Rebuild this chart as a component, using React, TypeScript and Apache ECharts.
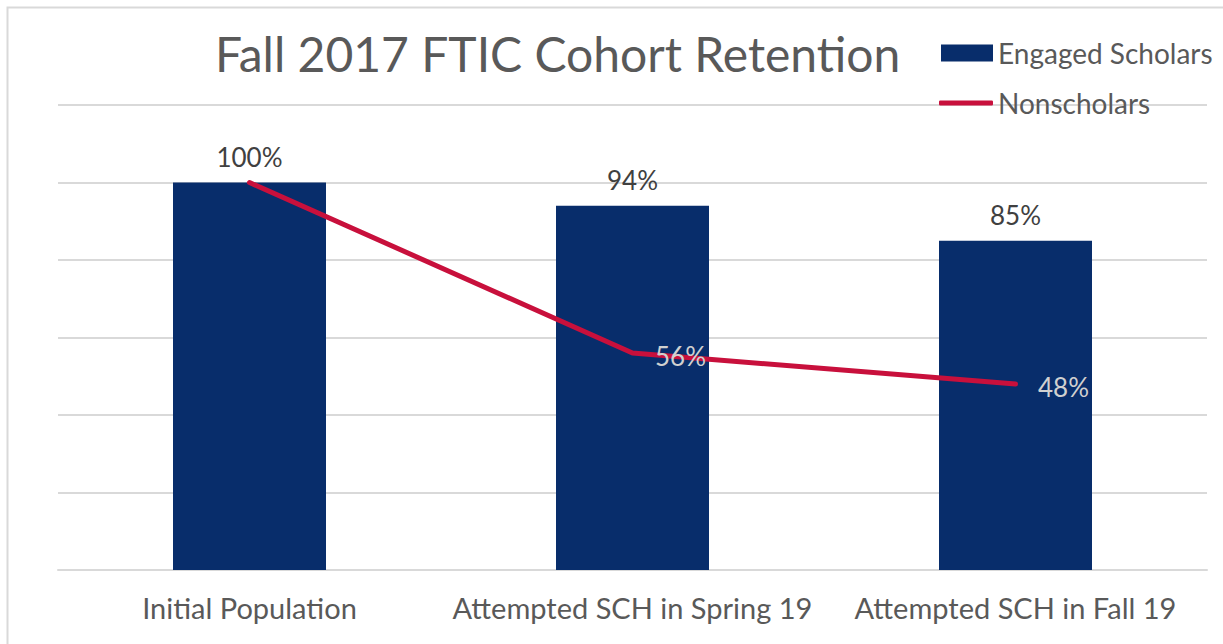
import React, { useEffect, useRef } from "react";
import * as echarts from "echarts";

const categories = ["Initial Population", "Attempted SCH in Spring 19", "Attempted SCH in Fall 19"];
const engagedScholars = [100, 94, 85];
const nonscholars = [100, 56, 48];
const yTicks = [0, 20, 40, 60, 80, 100, 120];

export default function App() {
  const ref = useRef<HTMLDivElement>(null);
  useEffect(() => {
    if (!ref.current) return;
    const chart = echarts.init(ref.current, undefined, { renderer: "svg" });
    const font = "Lato, 'Open Sans', sans-serif";
    chart.setOption({
      animation: false,
      backgroundColor: "#ffffff",
      textStyle: { fontFamily: font },
      title: {
        text: "Fall 2017 FTIC Cohort Retention",
        left: 210,
        top: 24,
        textStyle: { fontFamily: font, fontSize: 48, fontWeight: "normal", color: "#595959" },
      },
      graphic: [
        {
          type: "rect",
          shape: { x: 7.5, y: 7.5, width: 1240, height: 700 },
          style: { fill: "none", stroke: "#d9d9d9", lineWidth: 2 },
          silent: true,
          z: -1,
        },
      ],
      legend: [
        {
          data: [{ name: "Engaged Scholars", icon: "rect" }],
          left: 936,
          top: 34,
          itemWidth: 52,
          itemHeight: 17,
          itemGap: 5,
          textStyle: { fontFamily: font, fontSize: 28, color: "#595959" },
          selectedMode: false,
        },
        {
          data: [{ name: "Nonscholars", icon: "roundRect" }],
          left: 934,
          top: 84,
          itemWidth: 54,
          itemHeight: 5,
          textStyle: { fontFamily: font, fontSize: 28, color: "#595959" },
          selectedMode: false,
        },
      ],
      grid: { left: 58, right: 16, top: 105, bottom: 74, containLabel: false },
      xAxis: {
        type: "category",
        data: categories,
        axisLine: { lineStyle: { color: "#d9d9d9", width: 2 } },
        axisTick: { show: false },
        axisLabel: { fontFamily: font, fontSize: 29, color: "#595959", margin: 23, interval: 0 },
      },
      yAxis: {
        type: "value",
        min: yTicks[0],
        max: yTicks[yTicks.length - 1],
        interval: 20,
        axisLabel: { show: false },
        axisLine: { show: false },
        axisTick: { show: false },
        splitLine: { lineStyle: { color: "#d9d9d9", width: 2 } },
      },
      series: [
        {
          name: "Engaged Scholars",
          type: "bar",
          data: engagedScholars,
          barWidth: 153,
          itemStyle: { color: "#082d6b" },
          label: {
            show: true,
            position: "top",
            distance: 13,
            formatter: "{c}%",
            fontFamily: font,
            fontSize: 26,
            color: "#404040",
          },
          z: 2,
        },
        {
          name: "Nonscholars",
          type: "line",
          data: nonscholars.map((v, i) => ({
            value: v,
            label: { show: i > 0 },
          })),
          symbol: "circle",
          symbolSize: 1,
          itemStyle: { color: "#c8103c" },
          lineStyle: { color: "#c8103c", width: 5, cap: "round", join: "round" },
          label: {
            show: true,
            position: "right",
            distance: 22,
            offset: [0, 3],
            formatter: "{c}%",
            fontFamily: font,
            fontSize: 26,
            color: "#d0d0d0",
          },
          z: 3,
        },
      ],
    });
    return () => chart.dispose();
  }, []);
  return (
    <div
      ref={ref}
      style={{ position: "absolute", left: 0, top: 0, width: 1223, height: 644 }}
    />
  );
}
